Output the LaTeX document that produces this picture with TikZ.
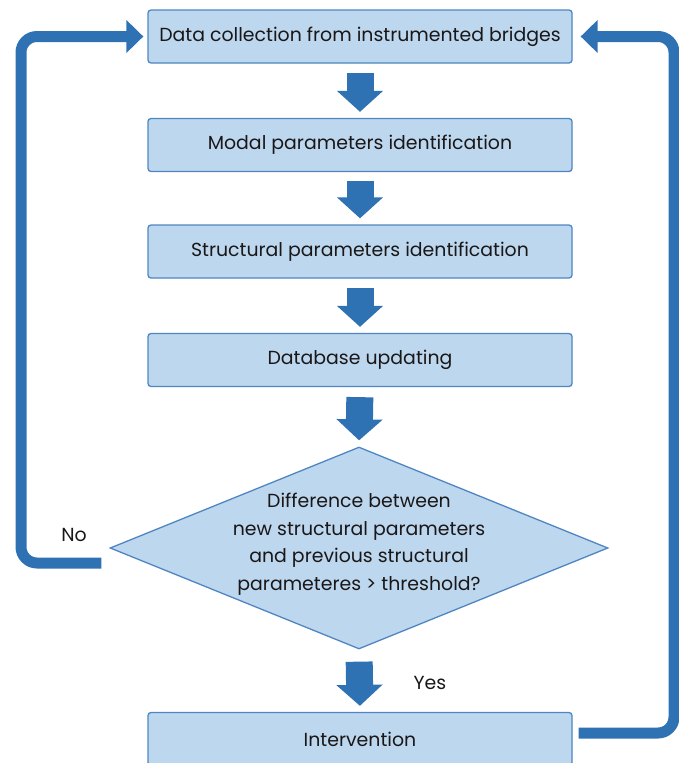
\documentclass[tikz,border=0pt]{standalone}
\usepackage{fontspec}
\setmainfont{Poppins}
\usetikzlibrary{arrows.meta,shapes.geometric}
\definecolor{boxfill}{HTML}{BDD7EE}
\definecolor{boxline}{HTML}{4F86C2}
\definecolor{arrowblue}{HTML}{2E72B4}
\definecolor{txt}{HTML}{1A1718}
\tikzset{
  stepbox/.style={draw=boxline, line width=1.3pt, fill=boxfill, rounded corners=3pt,
    minimum width=424pt, minimum height=53pt, inner sep=0pt, text=txt,
    font=\fontsize{18.9}{22}\selectfont},
  decision/.style={diamond, draw=boxline, line width=1.3pt, fill=boxfill,
    minimum width=498pt, minimum height=202pt, inner sep=0pt, aspect=2.45},
  blockarrow/.style={draw=arrowblue, line width=27pt,
    -{Triangle[width=45pt,length=21pt]}, shorten <=9pt, shorten >=6pt},
  looparrow/.style={draw=arrowblue, line width=11pt, rounded corners=16pt,
    -{Triangle[width=32pt,length=17pt]}},
  lbl/.style={text=txt, font=\fontsize{18.9}{22}\selectfont}
}
\begin{document}
\begin{tikzpicture}[x=1pt,y=-1pt]
\useasboundingbox (0,0) rectangle (679,763);
\begin{scope}
\clip (0,0) rectangle (679,763);
\node[stepbox] (b1) at (360,36.5) {Data collection from instrumented bridges};
\node[stepbox] (b2) at (360,145) {Modal parameters identification};
\node[stepbox] (b3) at (360,251.5) {Structural parameters identification};
\node[stepbox] (b4) at (360,360) {Database updating};
\node[decision] (dia) at (359,548) {};
\node[text=txt, align=center, font=\fontsize{18.9}{27.5}\selectfont] (diat) at (359,544)
  {Difference between\\new structural parameters\\and previous structural\\parameteres > threshold?};
\node[stepbox] (b5) at (360,739) {Intervention};
\node[lbl] (no) at (74,535) {No};
\node[lbl] (yes) at (430,683) {Yes};

\draw[blockarrow] (b1.south) -- (b2.north);
\draw[blockarrow] (b2.south) -- (b3.north);
\draw[blockarrow] (b3.south) -- (b4.north);
\draw[blockarrow, shorten <=10pt] (b4.south) -- (dia.north);
\draw[blockarrow, shorten <=12pt] (dia.south) -- (b5.north);

\coordinate (nostart) at ([xshift=-8pt,yshift=-15pt]dia.west);
\coordinate (noend) at ([xshift=-4pt]b1.west);
\draw[looparrow] (nostart) -- (21,563) -- (21,36.5) -- (noend);
\coordinate (yesstart) at ([xshift=6pt,yshift=6pt]b5.east);
\coordinate (yesend) at ([xshift=8pt]b1.east);
\draw[looparrow] (yesstart) -- (674,733) -- (674,36.5) -- (yesend);
\end{scope}
\end{tikzpicture}
\end{document}
